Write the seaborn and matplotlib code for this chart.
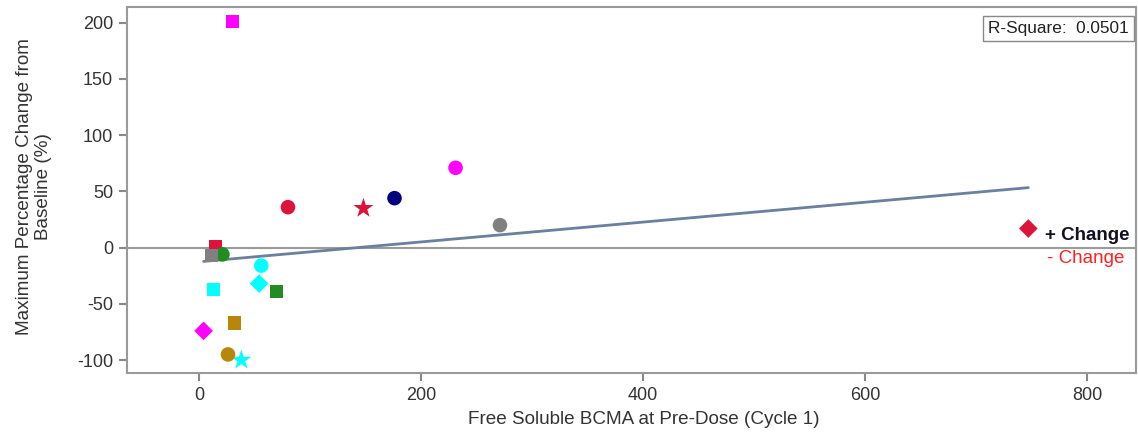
import numpy as np
import pandas as pd
import matplotlib
matplotlib.use("Agg")
import matplotlib.pyplot as plt
import seaborn as sns

# ---- data ----
bcma = [30, 231, 176, 148, 80, 271, 747, 15, 11, 21, 56, 54, 70, 13, 32, 4, 26, 38]
pct_change = [201, 71, 44, 35, 36, 20, 17, 1, -7, -6, -16, -32, -39, -37, -67, -74, -95, -100]
point_colors = ["magenta", "magenta", "navy", "crimson", "crimson", "gray", "crimson", "crimson",
                "gray", "forestgreen", "cyan", "cyan", "forestgreen", "cyan", "darkgoldenrod",
                "magenta", "darkgoldenrod", "cyan"]
point_markers = ["s", "o", "o", "*", "o", "o", "D", "s",
                 "s", "o", "o", "D", "s", "s", "s",
                 "D", "o", "*"]
r_square_text = "R-Square:  0.0501"
x_label = "Free Soluble BCMA at Pre-Dose (Cycle 1)"
y_label = "Maximum Percentage Change from\nBaseline (%)"
x_ticks = [0, 200, 400, 600, 800]
y_ticks = [-100, -50, 0, 50, 100, 150, 200]

df = pd.DataFrame({"x": bcma, "y": pct_change, "c": point_colors, "m": point_markers})

sns.set_theme(style="white")
plt.rcParams["font.family"] = ["Liberation Sans", "DejaVu Sans"]
plt.rcParams["axes.unicode_minus"] = False

fig = plt.figure(figsize=(11.38, 4.46), dpi=100)
ax = fig.add_axes([127/1138, 1 - 373/446, (1136-127)/1138, (373-7)/446])

ax.axhline(0, color="#9a9a9a", lw=1.5, zorder=1)

sns.regplot(data=df, x="x", y="y", scatter=False, ci=None, truncate=True,
            line_kws=dict(color="#6b7f9e", lw=2), ax=ax)

size_map = {"o": 110, "s": 90, "D": 90, "*": 230}
for (c, m), g in df.groupby(["c", "m"]):
    sns.scatterplot(data=g, x="x", y="y", color=c, marker=m, s=size_map[m],
                    edgecolor="none", ax=ax, zorder=3, legend=False)

ax.set_xlim(-65, 844)
ax.set_ylim(-111.5, 214)
ax.set_xticks(x_ticks)
ax.set_yticks(y_ticks)
ax.set_xlabel(x_label, fontsize=13.6, color="#333333", labelpad=8)
ax.set_ylabel(y_label, fontsize=13.6, color="#333333", labelpad=12)
ax.xaxis.set_label_coords(0.512, -0.105)
ax.yaxis.set_label_coords(-0.074, 0.51)
ax.tick_params(axis="both", which="both", labelsize=13, colors="#888888",
               labelcolor="#333333", length=6, width=1.5, direction="out",
               bottom=True, left=True, pad=4)
for side in ["left", "bottom", "top", "right"]:
    ax.spines[side].set_color("#9a9a9a")
    ax.spines[side].set_linewidth(1.5)

ax.text(0.993, 0.962, r_square_text, transform=ax.transAxes, ha="right", va="top",
        fontsize=12.4, color="#222222",
        bbox=dict(boxstyle="square,pad=0.3", fc="white", ec="#888888", lw=1))

ax.text(762, 11, "+ Change", fontsize=13.5, fontweight="bold", color="#111122",
        ha="left", va="center")
ax.text(764, -9.5, "- Change", fontsize=13.5, color="#ff2020", ha="left", va="center")

fig.savefig("out.png", dpi=100)
